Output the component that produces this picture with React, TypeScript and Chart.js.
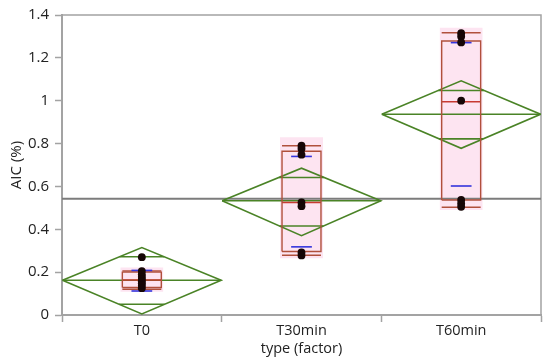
import React, { useEffect, useRef } from 'react';
import { Chart, registerables } from 'chart.js';
Chart.register(...registerables);

// ---------- data ----------
const categories = ['T0', 'T30min', 'T60min'];
const yTickValues = [0, 0.2, 0.4, 0.6, 0.8, 1, 1.2, 1.4];
const grandMean = 0.543;

// means diamonds
const means = [0.162, 0.533, 0.937];
const ciLower = [0.005, 0.37, 0.778];
const ciUpper = [0.315, 0.685, 1.093];
const overlapLower = [0.05, 0.415, 0.822];
const overlapUpper = [0.272, 0.642, 1.048];

// box plots
const boxQ1 = [0.128, 0.296, 0.537];
const boxMedian = [0.163, 0.525, 0.995];
const boxQ3 = [0.2, 0.764, 1.279];
const whiskerLow = [0.12, 0.279, 0.503];
const whiskerHigh = [0.205, 0.79, 1.317];

// std dev lines
const sdLower = [0.112, 0.318, 0.602];
const sdUpper = [0.208, 0.74, 1.271];

// shaded band behind the boxes
const shadeLower = [0.108, 0.265, 0.49];
const shadeUpper = [0.222, 0.83, 1.34];

// observations
const pointsT0 = [0.27, 0.205, 0.19, 0.178, 0.168, 0.158, 0.148, 0.138, 0.125];
const pointsT30 = [0.79, 0.776, 0.748, 0.525, 0.508, 0.292, 0.278];
const pointsT60 = [1.315, 1.3, 1.272, 1.0, 0.537, 0.52, 0.505];
const groupPoints = [pointsT0, pointsT30, pointsT60];

// ---------- styles ----------
const GREEN = '#4a8326';
const BOX = '#b0503c';
const MEDIAN = '#c83a32';
const BLUE = '#3434dc';
const PINK = '#fde4f1';
const AXIS = '#a3a3a3';
const DIAMOND_HALF = 0.497;
const BOX_HALF = 0.122;
const SHADE_HALF = 0.135;
const SD_HALF = 0.065;

const seg = (pts: { x: number; y: number }[], color: string, width: number, order: number, extra: any = {}) => ({
  type: 'scatter' as const,
  data: pts,
  showLine: true,
  borderColor: color,
  backgroundColor: color,
  borderWidth: width,
  pointRadius: 0,
  fill: false,
  order,
  ...extra,
});

function buildDatasets() {
  const ds: any[] = [];
  categories.forEach((_, i) => {
    const c = i + 0.5;
    // shaded band
    ds.push(
      seg(
        [
          { x: c - SHADE_HALF, y: shadeUpper[i] },
          { x: c + SHADE_HALF, y: shadeUpper[i] },
        ],
        'rgba(0,0,0,0)',
        0,
        20,
        { fill: { target: { value: shadeLower[i] }, above: PINK, below: PINK } }
      )
    );
    // diamond
    const x0 = c - DIAMOND_HALF;
    const x1 = c + DIAMOND_HALF;
    ds.push(
      seg(
        [
          { x: x0, y: means[i] },
          { x: c, y: ciUpper[i] },
          { x: x1, y: means[i] },
          { x: c, y: ciLower[i] },
          { x: x0, y: means[i] },
        ],
        GREEN,
        1.6,
        12
      )
    );
    ds.push(seg([{ x: x0, y: means[i] }, { x: x1, y: means[i] }], GREEN, 1.6, 12));
    const hu = DIAMOND_HALF * (1 - (overlapUpper[i] - means[i]) / (ciUpper[i] - means[i]));
    const hl = DIAMOND_HALF * (1 - (means[i] - overlapLower[i]) / (means[i] - ciLower[i]));
    ds.push(seg([{ x: c - hu, y: overlapUpper[i] }, { x: c + hu, y: overlapUpper[i] }], GREEN, 1.6, 12));
    ds.push(seg([{ x: c - hl, y: overlapLower[i] }, { x: c + hl, y: overlapLower[i] }], GREEN, 1.6, 12));
    // box
    const b0 = c - BOX_HALF;
    const b1 = c + BOX_HALF;
    ds.push(
      seg(
        [
          { x: b0, y: boxQ1[i] },
          { x: b1, y: boxQ1[i] },
          { x: b1, y: boxQ3[i] },
          { x: b0, y: boxQ3[i] },
          { x: b0, y: boxQ1[i] },
        ],
        BOX,
        1.4,
        10
      )
    );
    ds.push(seg([{ x: b0, y: boxMedian[i] }, { x: b1, y: boxMedian[i] }], MEDIAN, 1.4, 10));
    ds.push(seg([{ x: b0, y: whiskerHigh[i] }, { x: b1, y: whiskerHigh[i] }], BOX, 1.4, 10));
    ds.push(seg([{ x: b0, y: whiskerLow[i] }, { x: b1, y: whiskerLow[i] }], BOX, 1.4, 10));
    ds.push(seg([{ x: c, y: boxQ3[i] }, { x: c, y: whiskerHigh[i] }], BOX, 1.2, 10));
    ds.push(seg([{ x: c, y: boxQ1[i] }, { x: c, y: whiskerLow[i] }], BOX, 1.2, 10));
    // std dev lines
    ds.push(seg([{ x: c - SD_HALF, y: sdUpper[i] }, { x: c + SD_HALF, y: sdUpper[i] }], BLUE, 1.6, 8));
    ds.push(seg([{ x: c - SD_HALF, y: sdLower[i] }, { x: c + SD_HALF, y: sdLower[i] }], BLUE, 1.6, 8));
    // points
    ds.push({
      type: 'scatter',
      data: groupPoints[i].map((v) => ({ x: c, y: v })),
      pointRadius: 3.9,
      pointBackgroundColor: '#160606',
      pointBorderColor: '#160606',
      pointBorderWidth: 0,
      showLine: false,
      order: 0,
    });
  });
  // grand mean
  ds.push(seg([{ x: 0, y: grandMean }, { x: 3, y: grandMean }], '#7c7c7c', 2, 15));
  return ds;
}

const framePlugin = {
  id: 'frame',
  beforeDatasetsDraw(chart: any) {
    const { ctx, chartArea } = chart;
    ctx.save();
    ctx.strokeStyle = AXIS;
    ctx.lineWidth = 1.5;
    ctx.beginPath();
    ctx.moveTo(chartArea.left, chartArea.top);
    ctx.lineTo(chartArea.right, chartArea.top);
    ctx.lineTo(chartArea.right, chartArea.bottom);
    ctx.stroke();
    ctx.restore();
  },
};

export default function App() {
  const ref = useRef<HTMLCanvasElement | null>(null);
  useEffect(() => {
    document.body.style.margin = '0';
    Chart.defaults.font.family = '"Open Sans", "Noto Sans", sans-serif';
    Chart.defaults.color = '#222';
    const chart = new Chart(ref.current as HTMLCanvasElement, {
      type: 'scatter',
      data: { datasets: buildDatasets() },
      plugins: [framePlugin],
      options: {
        responsive: false,
        animation: false,
        events: [],
        layout: { padding: { top: 11, right: 9, left: 0, bottom: 0 } },
        plugins: { legend: { display: false }, tooltip: { enabled: false } },
        scales: {
          x: {
            type: 'linear',
            min: 0,
            max: 3,
            afterBuildTicks: (scale: any) => {
              scale.ticks = [0, 0.5, 1, 1.5, 2, 2.5, 3].map((v) => ({ value: v }));
            },
            afterFit: (scale: any) => {
              scale.height = 49;
            },
            ticks: {
              autoSkip: false,
              maxRotation: 0,
              padding: 0,
              font: { size: 14.5 },
              color: '#222',
              callback: (v: any) => {
                const n = Number(v);
                return Math.abs(n % 1 - 0.5) < 1e-6 ? categories[Math.floor(n)] : '';
              },
            },
            grid: {
              drawOnChartArea: false,
              tickLength: 7,
              tickWidth: 1.5,
              tickColor: (ctx: any) => (ctx.tick && Math.abs(ctx.tick.value % 1) < 1e-6 ? AXIS : 'rgba(0,0,0,0)'),
            },
            border: { color: AXIS, width: 2 },
            title: { display: true, text: 'type (factor)', font: { size: 14.5 }, color: '#222', padding: { top: 0, bottom: 6 } },
          },
          y: {
            type: 'linear',
            min: 0,
            max: 1.4,
            afterBuildTicks: (scale: any) => {
              scale.ticks = yTickValues.map((v) => ({ value: v }));
            },
            afterFit: (scale: any) => {
              scale.width = 62;
            },
            ticks: {
              padding: 6,
              font: { size: 15 },
              color: '#222',
              callback: (v: any) => String(Math.round(Number(v) * 10) / 10),
            },
            grid: { drawOnChartArea: false, tickLength: 7, tickWidth: 1.5, tickColor: AXIS },
            border: { color: AXIS, width: 2 },
            title: { display: true, text: 'AIC (%)', font: { size: 15 }, color: '#222', padding: { top: 8, bottom: 0 } },
          },
        },
      } as any,
    });
    return () => chart.destroy();
  }, []);
  return (
    <div style={{ position: 'absolute', left: 0, top: 0, width: 550, height: 364 }}>
      <canvas ref={ref} width={550} height={364} />
    </div>
  );
}
